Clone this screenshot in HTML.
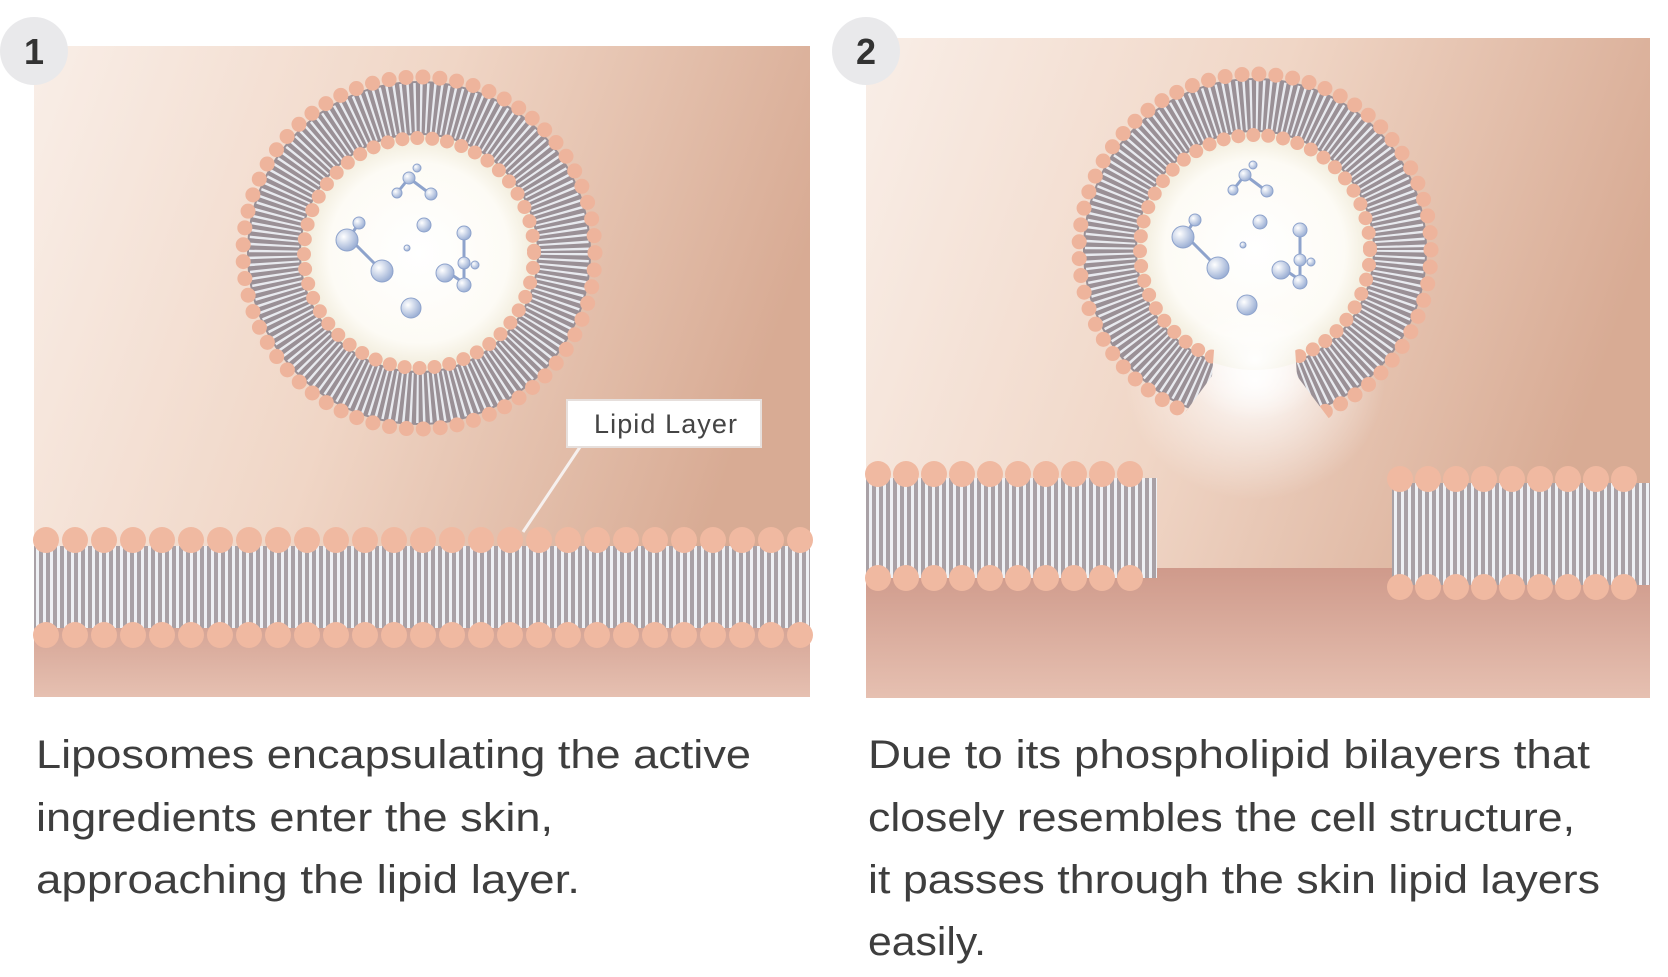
<!DOCTYPE html>
<html><head><meta charset="utf-8"><style>
html,body{margin:0;padding:0;background:#fff;}
svg{display:block}
</style></head><body>
<svg width="1668" height="977" viewBox="0 0 1668 977" xmlns="http://www.w3.org/2000/svg">
<defs>
<linearGradient id="bg1" x1="0" y1="0" x2="1" y2="0.3">
<stop offset="0" stop-color="#f9eee7"/><stop offset="0.5" stop-color="#f0d6c6"/><stop offset="1" stop-color="#d8ab94"/>
</linearGradient>
<linearGradient id="bot" x1="0" y1="0" x2="0" y2="1">
<stop offset="0" stop-color="#cf9a8b"/><stop offset="1" stop-color="#e6c0b1"/>
</linearGradient>
<radialGradient id="core" cx="0.5" cy="0.5" r="0.5">
<stop offset="0" stop-color="#ffffff"/><stop offset="0.75" stop-color="#fdfbf5"/><stop offset="1" stop-color="#efe9d6"/>
</radialGradient>
<radialGradient id="glow" cx="0.5" cy="0.5" r="0.5">
<stop offset="0" stop-color="#ffffff" stop-opacity="0.95"/><stop offset="1" stop-color="#ffffff" stop-opacity="0"/>
</radialGradient>
<radialGradient id="mol" cx="0.35" cy="0.35" r="0.65">
<stop offset="0" stop-color="#ffffff"/><stop offset="1" stop-color="#9fb2d6"/>
</radialGradient>
<pattern id="tails" width="7" height="100" patternUnits="userSpaceOnUse">
<rect width="7" height="100" fill="#a9a1a6"/><rect x="1" width="3" height="100" fill="#eef0f4"/>
</pattern>
<mask id="gap"><rect x="860" y="0" width="800" height="700" fill="#fff"/><polygon points="1222,250 1288,250 1297,376 1345,440 1165,440 1212,376" fill="#000"/></mask>
<g id="mols">
<g stroke="#8ea3cc" stroke-width="3">
<line x1="-70" y1="-15" x2="-40" y2="15"/><line x1="-70" y1="-15" x2="-60" y2="-30"/>
<line x1="-10" y1="-75" x2="10" y2="-60"/><line x1="-10" y1="-75" x2="-22" y2="-60"/>
<line x1="45" y1="-20" x2="45" y2="30"/><line x1="45" y1="30" x2="30" y2="20"/>
</g>
<g fill="url(#mol)" stroke="#8ea3cc" stroke-width="1">
<circle cx="-72" cy="-13" r="11"/><circle cx="-60" cy="-30" r="6"/><circle cx="-37" cy="18" r="11"/>
<circle cx="-10" cy="-75" r="6"/><circle cx="-22" cy="-60" r="5"/><circle cx="12" cy="-59" r="6"/><circle cx="-2" cy="-85" r="4"/>
<circle cx="5" cy="-28" r="7"/><circle cx="-12" cy="-5" r="3"/>
<circle cx="45" cy="-20" r="7"/><circle cx="45" cy="10" r="6"/><circle cx="56" cy="12" r="4"/><circle cx="45" cy="32" r="7"/><circle cx="26" cy="20" r="9"/>
<circle cx="-8" cy="55" r="10"/>
</g>
</g>
<g id="ringband">
<circle r="145" fill="none" stroke="#9a9096" stroke-width="54"/>
<circle r="145" fill="none" stroke="#e8eaef" stroke-width="50" stroke-dasharray="2.2 3.8"/>
<circle r="176" fill="none" stroke="#eeb49c" stroke-width="15" stroke-linecap="round" stroke-dasharray="0 17"/>
<circle r="115" fill="none" stroke="#eeb49c" stroke-width="14" stroke-linecap="round" stroke-dasharray="0 15"/>
</g>
</defs>

<!-- Panel 1 -->
<rect x="34" y="46" width="776" height="651" fill="url(#bg1)"/>
<rect x="34" y="600" width="776" height="97" fill="url(#bot)"/>
<rect x="34" y="546" width="776" height="82" fill="url(#tails)"/>
<line x1="46" y1="540" x2="810" y2="540" stroke="#f0b9a1" stroke-width="26" stroke-linecap="round" stroke-dasharray="0 29"/>
<line x1="46" y1="635" x2="810" y2="635" stroke="#f0b9a1" stroke-width="26" stroke-linecap="round" stroke-dasharray="0 29"/>
<circle cx="419" cy="253" r="120" fill="url(#core)"/>
<use href="#ringband" x="419" y="253"/>
<use href="#mols" x="419" y="253"/>
<line x1="580" y1="447" x2="523" y2="532" stroke="#f6f0ee" stroke-width="3"/>
<rect x="567" y="400" width="194" height="47" fill="#fff" stroke="#e6dfdc" stroke-width="2"/>
<text x="594" y="433" font-family="Liberation Sans, sans-serif" font-size="27" fill="#444" textLength="143">Lipid Layer</text>

<!-- Panel 2 -->
<rect x="866" y="38" width="784" height="660" fill="url(#bg1)"/>
<rect x="866" y="568" width="784" height="130" fill="url(#bot)"/>
<ellipse cx="1255" cy="380" rx="130" ry="120" fill="url(#glow)"/>
<rect x="866" y="478" width="291" height="100" fill="url(#tails)"/>
<line x1="878" y1="474" x2="1157" y2="474" stroke="#f0b9a1" stroke-width="26" stroke-linecap="round" stroke-dasharray="0 28"/>
<line x1="878" y1="578" x2="1157" y2="578" stroke="#f0b9a1" stroke-width="26" stroke-linecap="round" stroke-dasharray="0 28"/>
<rect x="1392" y="483" width="258" height="102" fill="url(#tails)"/>
<line x1="1400" y1="479" x2="1650" y2="479" stroke="#f0b9a1" stroke-width="26" stroke-linecap="round" stroke-dasharray="0 28"/>
<line x1="1400" y1="587" x2="1650" y2="587" stroke="#f0b9a1" stroke-width="26" stroke-linecap="round" stroke-dasharray="0 28"/>
<circle cx="1255" cy="250" r="120" fill="url(#core)"/>
<ellipse cx="1255" cy="360" rx="75" ry="60" fill="url(#glow)"/>
<g mask="url(#gap)"><use href="#ringband" x="1255" y="250"/></g>
<use href="#mols" x="1255" y="250"/>

<!-- Badges -->
<circle cx="34" cy="51" r="34" fill="#e9e9eb"/>
<text x="34" y="64" text-anchor="middle" font-family="Liberation Sans, sans-serif" font-size="36" font-weight="bold" fill="#333">1</text>
<circle cx="866" cy="51" r="34" fill="#e9e9eb"/>
<text x="866" y="64" text-anchor="middle" font-family="Liberation Sans, sans-serif" font-size="36" font-weight="bold" fill="#333">2</text>

<!-- Captions -->
<g font-family="Liberation Sans, sans-serif" font-size="40" fill="#3e3e3e">
<text x="36" y="768" textLength="715" lengthAdjust="spacingAndGlyphs">Liposomes encapsulating the active</text>
<text x="36" y="831" textLength="517" lengthAdjust="spacingAndGlyphs">ingredients enter the skin,</text>
<text x="36" y="893" textLength="544" lengthAdjust="spacingAndGlyphs">approaching the lipid layer.</text>
<text x="868" y="768" textLength="722" lengthAdjust="spacingAndGlyphs">Due to its phospholipid bilayers that</text>
<text x="868" y="831" textLength="707" lengthAdjust="spacingAndGlyphs">closely resembles the cell structure,</text>
<text x="868" y="893" textLength="732" lengthAdjust="spacingAndGlyphs">it passes through the skin lipid layers</text>
<text x="868" y="955" textLength="118" lengthAdjust="spacingAndGlyphs">easily.</text>
</g>
</svg>
</body></html>
